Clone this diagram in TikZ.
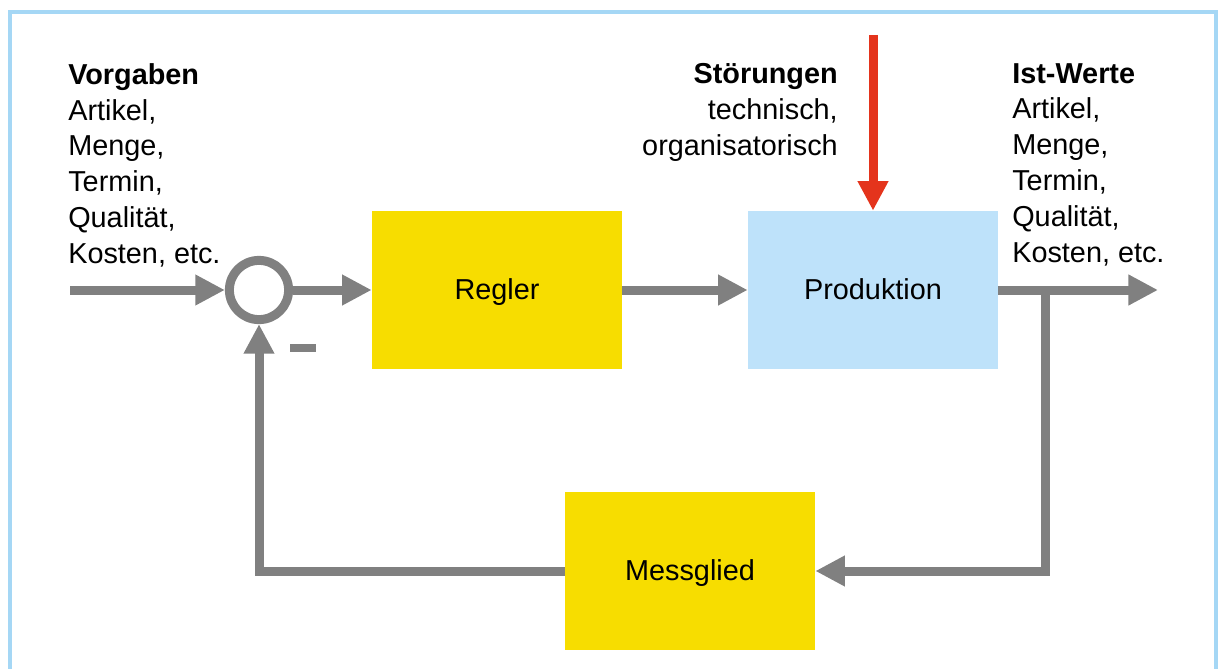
\documentclass[tikz,border=0pt]{standalone}
\usepackage{fontspec}
\setmainfont{Liberation Sans}
\usetikzlibrary{arrows.meta}

\definecolor{reglergelb}{RGB}{247,221,0}
\definecolor{prodblau}{RGB}{190,226,250}
\definecolor{rahmenblau}{RGB}{165,215,245}
\definecolor{pfeilgrau}{RGB}{128,128,128}
\definecolor{stoerrot}{RGB}{228,52,28}

\begin{document}
\begin{tikzpicture}[
	x=0.025cm, y=-0.025cm,
	% Define the styles for blocks, arrows and labels
	block/.style={rectangle, minimum width=6.25cm, minimum height=3.95cm, inner sep=0pt,
		text height=14.2pt, text depth=0pt,
		font=\fontsize{20.5}{25.5}\selectfont},
	label text/.style={inner sep=0pt, font=\fontsize{20.5}{25.5}\selectfont},
	signal/.style={draw=pfeilgrau, line width=6.4pt,
		-{Triangle[length=21pt, width=20.5pt]}}
	]
	
	\useasboundingbox (0,0) rectangle (1221,669);
	
	% --- FRAME ---
	\draw[rahmenblau, line width=2.2pt] (10,680) -- (10,12) -- (1216,12) -- (1216,680);
	
	% --- BLOCKS ---
	% Format: \node (internal_name) at (x,y) [fill=color] {text};
	
	\node[block, fill=reglergelb] (regler) at (497,290) {Regler};
	\node[block, fill=prodblau]   (prod)   at (873,290) {Produktion};
	\node[block, fill=reglergelb] (mess)   at (690,571) {Messglied};
	
	% summing point and its minus sign
	\node[circle, draw=pfeilgrau, line width=6.4pt, minimum size=1.48cm, inner sep=0pt] (sum) at (259,290) {};
	\node[rectangle, fill=pfeilgrau, minimum width=0.65cm, minimum height=0.22cm, inner sep=0pt] (minus) at (303,348) {};
	
	% --- TEXTS ---
	\node[label text, anchor=north west, align=left] (vorgaben) at (68,63)
		{\textbf{Vorgaben}\\Artikel,\\Menge,\\Termin,\\Qualität,\\Kosten, etc.};
	\node[label text, anchor=north east, align=right] (stoerung) at (838,63)
		{\textbf{Störungen}\\technisch,\\organisatorisch};
	\node[label text, anchor=north west, align=left] (istwerte) at (1012,63)
		{\textbf{Ist-Werte}\\Artikel,\\Menge,\\Termin,\\Qualität,\\Kosten, etc.};
	
	% --- FREE ENDS ---
	\coordinate (in)     at (70,290);
	\coordinate (out)    at (1158,290);
	\coordinate (branch) at (1045,290);
	\coordinate (stoer)  at (873,35);
	
	% --- CONNECTORS ---
	\draw[signal] (in) -- (sum.west);
	\draw[signal] (sum.east) -- (regler.west);
	\draw[signal] (regler.east) -- (prod.west);
	\draw[signal] (prod.east) -- (out);
	\draw[signal] (branch) |- (mess.east); % feedback to Messglied
	\draw[signal] (mess.west) -| (sum.south); % back to summing point
	\draw[signal, draw=stoerrot] (stoer) -- (prod.north); % disturbance
	
\end{tikzpicture}
\end{document}
